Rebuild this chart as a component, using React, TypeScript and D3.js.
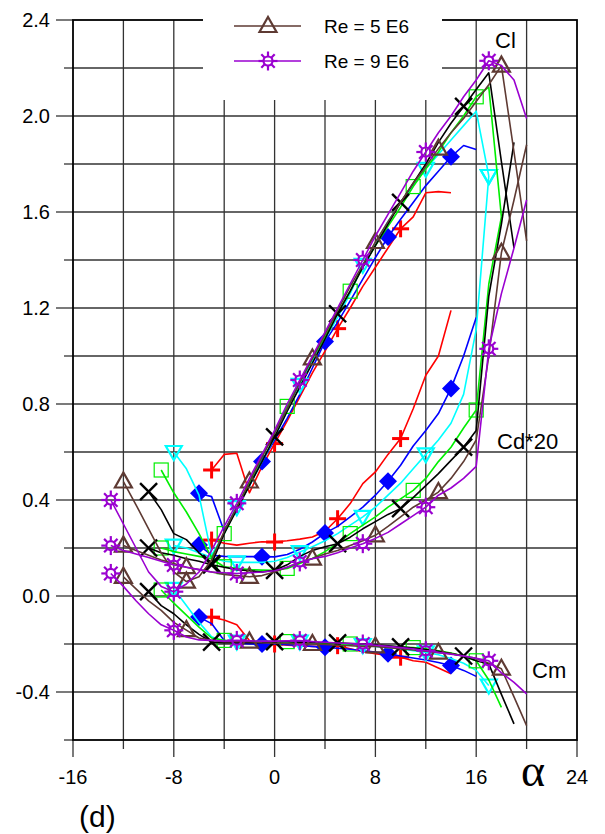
import React from "react";
import * as d3 from "d3";

const W = 605;
const H = 834;

// ---------- data (alpha in degrees; Cl, Cd*20, Cm) ----------
const redAlpha = [-5, -4, -3, -2, -1, 0, 1, 2, 3, 4, 5, 6, 7, 8, 9, 10, 11, 12, 13, 14];
const redCl = [0.525, 0.59, 0.595, 0.43, 0.54, 0.635, 0.73, 0.83, 0.93, 1.02, 1.114, 1.2, 1.29, 1.37, 1.45, 1.53, 1.58, 1.68, 1.685, 1.68];
const redCd = [0.233, 0.22, 0.212, 0.22, 0.226, 0.225, 0.23, 0.237, 0.246, 0.27, 0.322, 0.385, 0.468, 0.517, 0.59, 0.656, 0.78, 0.92, 1.0, 1.19];
const redCm = [-0.088, -0.1, -0.12, -0.185, -0.2, -0.2, -0.205, -0.207, -0.21, -0.21, -0.207, -0.22, -0.232, -0.24, -0.248, -0.255, -0.27, -0.276, -0.3, -0.324];

const blueAlpha = [-6, -5, -4, -3, -2, -1, 0, 1, 2, 3, 4, 5, 6, 7, 8, 9, 10, 11, 12, 13, 14, 15, 16];
const blueCl = [0.428, 0.414, 0.27, 0.37, 0.46, 0.56, 0.65, 0.74, 0.84, 0.95, 1.06, 1.14, 1.23, 1.32, 1.41, 1.496, 1.57, 1.64, 1.71, 1.77, 1.83, 1.877, 1.86];
const blueCd = [0.212, 0.17, 0.165, 0.164, 0.164, 0.164, 0.163, 0.173, 0.195, 0.225, 0.262, 0.29, 0.33, 0.37, 0.42, 0.478, 0.545, 0.625, 0.69, 0.76, 0.865, 1.0, 1.16];
const blueCm = [-0.088, -0.115, -0.185, -0.195, -0.2, -0.2, -0.2, -0.203, -0.206, -0.21, -0.214, -0.218, -0.222, -0.228, -0.234, -0.241, -0.25, -0.258, -0.267, -0.277, -0.29, -0.31, -0.335];

const cyanAlpha = [-8, -7, -6, -5, -4, -3, -2, -1, 0, 1, 2, 3, 4, 5, 6, 7, 8, 9, 10, 11, 12, 13, 14, 15, 16, 17];
const cyanCl = [0.6, 0.53, 0.42, 0.17, 0.26, 0.37, 0.46, 0.56, 0.66, 0.77, 0.88, 0.98, 1.07, 1.16, 1.26, 1.38, 1.47, 1.56, 1.64, 1.71, 1.78, 1.84, 1.9, 1.96, 2.02, 1.75];
const cyanCd = [0.21, 0.2, 0.18, 0.16, 0.145, 0.14, 0.14, 0.14, 0.145, 0.16, 0.183, 0.205, 0.23, 0.26, 0.295, 0.33, 0.37, 0.42, 0.47, 0.53, 0.59, 0.65, 0.72, 0.84, 1.11, 1.75];
const cyanCm = [0.03, -0.04, -0.11, -0.17, -0.19, -0.19, -0.19, -0.19, -0.19, -0.19, -0.19, -0.195, -0.2, -0.2, -0.203, -0.205, -0.21, -0.215, -0.22, -0.228, -0.235, -0.245, -0.26, -0.28, -0.31, -0.373];

const greenAlpha = [-9, -8, -7, -6, -5, -4, -3, -2, -1, 0, 1, 2, 3, 4, 5, 6, 7, 8, 9, 10, 11, 12, 13, 14, 15, 16, 17, 18];
const greenCl = [0.525, 0.43, 0.35, 0.26, 0.16, 0.26, 0.37, 0.47, 0.58, 0.68, 0.79, 0.89, 0.99, 1.08, 1.18, 1.27, 1.37, 1.46, 1.54, 1.62, 1.706, 1.78, 1.85, 1.93, 2.0, 2.08, 2.12, 1.58];
const greenCd = [0.2, 0.185, 0.175, 0.165, 0.155, 0.122, 0.115, 0.11, 0.108, 0.107, 0.115, 0.135, 0.156, 0.185, 0.22, 0.26, 0.295, 0.33, 0.37, 0.405, 0.44, 0.49, 0.56, 0.62, 0.7, 0.775, 1.3, 1.58];
const greenCm = [0.025, -0.03, -0.08, -0.13, -0.175, -0.185, -0.19, -0.19, -0.19, -0.19, -0.19, -0.193, -0.195, -0.197, -0.2, -0.2, -0.203, -0.206, -0.21, -0.213, -0.215, -0.22, -0.228, -0.238, -0.25, -0.27, -0.35, -0.464];

const blackAlpha = [-10, -9, -8, -7, -6, -5, -4, -3, -2, -1, 0, 1, 2, 3, 4, 5, 6, 7, 8, 9, 10, 11, 12, 13, 14, 15, 16, 17, 18, 19];
const blackCl = [0.435, 0.36, 0.26, 0.235, 0.18, 0.135, 0.26, 0.36, 0.46, 0.56, 0.663, 0.77, 0.87, 0.97, 1.07, 1.176, 1.27, 1.37, 1.46, 1.55, 1.64, 1.72, 1.8, 1.89, 1.97, 2.04, 2.11, 2.18, 1.81, 1.45];
const blackCd = [0.2, 0.18, 0.17, 0.155, 0.145, 0.13, 0.12, 0.11, 0.105, 0.1, 0.107, 0.13, 0.165, 0.19, 0.205, 0.218, 0.245, 0.28, 0.31, 0.34, 0.364, 0.41, 0.46, 0.51, 0.565, 0.62, 0.69, 1.25, 1.55, 1.89];
const blackCm = [0.018, -0.04, -0.074, -0.12, -0.16, -0.192, -0.195, -0.195, -0.195, -0.195, -0.19, -0.19, -0.192, -0.194, -0.195, -0.195, -0.198, -0.2, -0.203, -0.207, -0.212, -0.217, -0.223, -0.23, -0.24, -0.25, -0.27, -0.283, -0.41, -0.533];

const brownAlpha = [-12, -11, -10, -9, -8, -7, -6, -5, -4, -3, -2, -1, 0, 1, 2, 3, 4, 5, 6, 7, 8, 9, 10, 11, 12, 13, 14, 15, 16, 17, 18, 19, 20];
const brownCl = [0.477, 0.38, 0.28, 0.18, 0.1, 0.06, 0.08, 0.15, 0.27, 0.37, 0.477, 0.58, 0.68, 0.78, 0.89, 0.99, 1.09, 1.19, 1.29, 1.38, 1.475, 1.56, 1.64, 1.72, 1.79, 1.864, 1.93, 1.99, 2.06, 2.13, 2.21, 1.85, 1.48];
const brownCd = [0.21, 0.19, 0.17, 0.15, 0.135, 0.12, 0.11, 0.1, 0.09, 0.085, 0.08, 0.085, 0.1, 0.12, 0.14, 0.156, 0.175, 0.19, 0.21, 0.23, 0.253, 0.29, 0.33, 0.37, 0.4, 0.433, 0.49, 0.56, 0.65, 1.0, 1.43, 1.65, 1.88];
const brownCm = [0.08, 0.03, -0.02, -0.06, -0.11, -0.142, -0.175, -0.185, -0.19, -0.19, -0.19, -0.195, -0.197, -0.198, -0.2, -0.2, -0.202, -0.205, -0.207, -0.21, -0.21, -0.215, -0.22, -0.225, -0.23, -0.236, -0.24, -0.25, -0.26, -0.28, -0.303, -0.42, -0.54];

const purpleAlpha = [-13, -12, -11, -10, -9, -8, -7, -6, -5, -4, -3, -2, -1, 0, 1, 2, 3, 4, 5, 6, 7, 8, 9, 10, 11, 12, 13, 14, 15, 16, 17, 18, 19, 20];
const purpleCl = [0.4, 0.3, 0.2, 0.1, 0.04, 0.018, 0.05, 0.1, 0.19, 0.29, 0.386, 0.49, 0.59, 0.69, 0.8, 0.9, 1.0, 1.1, 1.2, 1.3, 1.4, 1.5, 1.59, 1.68, 1.77, 1.85, 1.93, 2.0, 2.08, 2.15, 2.23, 2.21, 2.15, 1.99];
const purpleCd = [0.21, 0.19, 0.175, 0.16, 0.145, 0.129, 0.12, 0.11, 0.1, 0.097, 0.094, 0.097, 0.1, 0.105, 0.12, 0.142, 0.155, 0.165, 0.18, 0.2, 0.218, 0.24, 0.265, 0.3, 0.335, 0.37, 0.42, 0.45, 0.49, 0.54, 1.03, 1.26, 1.45, 1.65];
const purpleCm = [0.094, 0.04, -0.02, -0.074, -0.12, -0.143, -0.171, -0.183, -0.185, -0.188, -0.185, -0.187, -0.188, -0.188, -0.187, -0.186, -0.19, -0.193, -0.196, -0.198, -0.2, -0.205, -0.21, -0.215, -0.22, -0.228, -0.235, -0.243, -0.25, -0.26, -0.27, -0.32, -0.36, -0.408];

const xTickLabels = ["-16", "-8", "0", "8", "16", "24"];
const yTickLabels = ["2.4", "2.0", "1.6", "1.2", "0.8", "0.4", "0.0", "-0.4"];
const legendLabels = ["Re = 5 E6", "Re = 9 E6"];

type Marker = "plus" | "diamond" | "tridown" | "square" | "cross" | "triup" | "sun";
const seriesList: { alpha: number[]; cl: number[]; cd: number[]; cm: number[]; color: string; marker: Marker }[] = [
  { alpha: redAlpha, cl: redCl, cd: redCd, cm: redCm, color: "#ff0000", marker: "plus" },
  { alpha: blueAlpha, cl: blueCl, cd: blueCd, cm: blueCm, color: "#0000ff", marker: "diamond" },
  { alpha: cyanAlpha, cl: cyanCl, cd: cyanCd, cm: cyanCm, color: "#00ffff", marker: "tridown" },
  { alpha: greenAlpha, cl: greenCl, cd: greenCd, cm: greenCm, color: "#00ee00", marker: "square" },
  { alpha: blackAlpha, cl: blackCl, cd: blackCd, cm: blackCm, color: "#000000", marker: "cross" },
  { alpha: brownAlpha, cl: brownCl, cd: brownCd, cm: brownCm, color: "#5e3a33", marker: "triup" },
  { alpha: purpleAlpha, cl: purpleCl, cd: purpleCd, cm: purpleCm, color: "#9a00d0", marker: "sun" },
];

const x = d3.scaleLinear().domain([-16, 24]).range([73, 577]);
const y = d3.scaleLinear().domain([-0.6, 2.4]).range([740, 20]);

function MarkerShape({ type, cx, cy, color }: { type: Marker; cx: number; cy: number; color: string }) {
  switch (type) {
    case "plus":
      return (
        <g stroke={color} strokeWidth={3}>
          <line x1={cx - 8.5} y1={cy} x2={cx + 8.5} y2={cy} />
          <line x1={cx} y1={cy - 8.5} x2={cx} y2={cy + 8.5} />
        </g>
      );
    case "diamond":
      return <path d={`M${cx},${cy - 9}L${cx + 9},${cy}L${cx},${cy + 9}L${cx - 9},${cy}Z`} fill={color} />;
    case "tridown":
      return <path d={`M${cx - 8},${cy - 6}L${cx + 8},${cy - 6}L${cx},${cy + 8}Z`} fill="none" stroke={color} strokeWidth={2.2} />;
    case "square":
      return <rect x={cx - 7} y={cy - 7} width={14} height={14} fill="none" stroke={color} strokeWidth={1.2} />;
    case "cross":
      return (
        <g stroke={color} strokeWidth={2.4}>
          <line x1={cx - 8.5} y1={cy - 8.5} x2={cx + 8.5} y2={cy + 8.5} />
          <line x1={cx - 8.5} y1={cy + 8.5} x2={cx + 8.5} y2={cy - 8.5} />
        </g>
      );
    case "triup":
      return <path d={`M${cx - 8.5},${cy + 6}L${cx + 8.5},${cy + 6}L${cx},${cy - 9}Z`} fill="none" stroke={color} strokeWidth={2.2} />;
    case "sun": {
      const rays = d3.range(8).map((k) => {
        const a = (k * Math.PI) / 4;
        return (
          <line key={k} x1={cx + 5 * Math.cos(a)} y1={cy + 5 * Math.sin(a)} x2={cx + 9.5 * Math.cos(a)} y2={cy + 9.5 * Math.sin(a)} />
        );
      });
      return (
        <g stroke={color} strokeWidth={2.2} fill="none">
          <circle cx={cx} cy={cy} r={4.5} />
          {rays}
        </g>
      );
    }
  }
  return null;
}

export default function App() {
  const line = d3
    .line<[number, number]>()
    .x((d) => x(d[0]))
    .y((d) => y(d[1]));

  const gridX = [-12, -8, -4, 0, 4, 8, 12, 16, 20];
  const gridY = d3.range(-0.4, 2.4, 0.2).map((v) => +v.toFixed(1));
  const majorX = [-16, -8, 0, 8, 16, 24];
  const minorX = [-12, -4, 4, 12, 20];
  const majorY = [2.4, 2.0, 1.6, 1.2, 0.8, 0.4, 0.0, -0.4];
  const minorY = [2.2, 1.8, 1.4, 1.0, 0.6, 0.2, -0.2, -0.6];
  const font = "'Liberation Sans', Arial, sans-serif";

  return (
    <svg width={W} height={H} style={{ position: "absolute", left: 0, top: 0, background: "#fff" }} fontFamily={font}>
      <rect x={0} y={0} width={W} height={H} fill="#fff" />
      {/* grid */}
      <g stroke="#333" strokeWidth={1.3}>
        {gridX.map((v) => (
          <line key={"gx" + v} x1={x(v)} x2={x(v)} y1={y(2.4)} y2={y(-0.6)} />
        ))}
        {gridY.map((v) => (
          <line key={"gy" + v} x1={x(-16)} x2={x(24)} y1={y(v)} y2={y(v)} />
        ))}
      </g>
      {/* ticks */}
      <g stroke="#333" strokeWidth={1.3}>
        {majorX.map((v) => (
          <line key={"mx" + v} x1={x(v)} x2={x(v)} y1={y(-0.6)} y2={757} />
        ))}
        {minorX.map((v) => (
          <line key={"nx" + v} x1={x(v)} x2={x(v)} y1={y(-0.6)} y2={749} />
        ))}
        {majorY.map((v) => (
          <line key={"my" + v} x1={56} x2={x(-16)} y1={y(v)} y2={y(v)} />
        ))}
        {minorY.map((v) => (
          <line key={"ny" + v} x1={64} x2={x(-16)} y1={y(v)} y2={y(v)} />
        ))}
      </g>
      {/* frame */}
      <rect x={x(-16)} y={y(2.4)} width={x(24) - x(-16)} height={y(-0.6) - y(2.4)} fill="none" stroke="#000" strokeWidth={1.8} />

      {/* series */}
      {seriesList.map((s, si) => {
        const curves = [s.cl, s.cd, s.cm];
        return (
          <g key={si}>
            {curves.map((vals, ci) => (
              <path
                key={ci}
                d={line(s.alpha.map((a, i) => [a, vals[i]] as [number, number])) || ""}
                fill="none"
                stroke={s.color}
                strokeWidth={1.6}
                strokeLinejoin="round"
              />
            ))}
            {curves.map((vals, ci) =>
              s.alpha.map((a, i) =>
                i % 5 === 0 ? <MarkerShape key={ci + "-" + i} type={s.marker} cx={x(a)} cy={y(vals[i])} color={s.color} /> : null
              )
            )}
          </g>
        );
      })}

      {/* legend */}
      <rect x={203} y={0} width={239} height={100} fill="#fff" />
      {legendLabels.map((lab, i) => {
        const ly = 26 + i * 35;
        const s = seriesList[5 + i];
        return (
          <g key={lab}>
            <line x1={234} x2={301} y1={ly} y2={ly} stroke={s.color} strokeWidth={1.6} />
            <MarkerShape type={s.marker} cx={268} cy={ly} color={s.color} />
            <text x={324} y={ly + 7} fontSize={19} fill="#000">
              {lab}
            </text>
          </g>
        );
      })}

      {/* tick labels */}
      {yTickLabels.map((t, i) => (
        <text key={t} x={50} y={y(majorY[i]) + 7} fontSize={20} textAnchor="end" fill="#000">
          {t}
        </text>
      ))}
      {xTickLabels.map((t, i) => (
        <text key={t} x={x(majorX[i])} y={784} fontSize={20} textAnchor="middle" fill="#000">
          {t}
        </text>
      ))}

      {/* curve labels */}
      <text x={495} y={48} fontSize={22} fill="#000">Cl</text>
      <text x={497} y={449} fontSize={22} fill="#000">Cd*20</text>
      <text x={532} y={678} fontSize={22} fill="#000">Cm</text>
      <text x={521} y={786} fontSize={46} fill="#000" fontFamily="'Liberation Serif', 'DejaVu Serif', serif">α</text>
      <text x={79} y={827} fontSize={30} fill="#000">(d)</text>
    </svg>
  );
}
